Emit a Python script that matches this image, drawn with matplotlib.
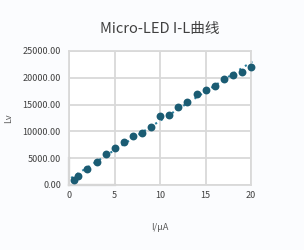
import matplotlib
matplotlib.use("Agg")
import matplotlib.pyplot as plt
import numpy as np

current_uA = [0.5, 1, 2, 3, 4, 5, 6, 7, 8, 9, 10, 11, 12, 13, 14, 15, 16, 17, 18, 19, 20]
lv = [850, 1600, 2950, 4200, 5750, 6900, 8050, 9100, 9750, 10750, 12850, 13050,
      14600, 15450, 17000, 17700, 18550, 19800, 20550, 21150, 21950]
x_ticks = [0, 5, 10, 15, 20]
y_ticks = [0, 5000, 10000, 15000, 20000, 25000]
title = "Micro-LED I-L曲线"
xlabel = "I/μA"
ylabel = "Lv"

plt.rcParams['font.family'] = ['Noto Sans CJK SC', 'DejaVu Sans']

bg = '#fbfcfe'
fig = plt.figure(figsize=(3.04, 2.5), dpi=100, facecolor=bg)
ax = fig.add_axes([0.228, 0.26, 0.598, 0.536])
ax.set_facecolor('white')

col = '#1b5c73'
ax.scatter(current_uA, lv, s=32, color=col, zorder=3, linewidths=0, clip_on=False)
coef = np.polyfit(current_uA, lv, 1)
xs = np.array([0.2, 20.3])
ax.plot(xs, np.polyval(coef, xs), linestyle=(0, (1, 2.2)), color='#2a7f9e', lw=1.5,
        zorder=2, clip_on=False)

ax.set_xlim(0, 20)
ax.set_ylim(0, 25000)
ax.set_xticks(x_ticks)
ax.set_yticks(y_ticks)
ax.set_yticklabels([f"{v:.2f}" for v in y_ticks])
ax.grid(True, color='#d9d9d9', lw=1.3)
ax.set_axisbelow(True)
for s in ax.spines.values():
    s.set_color('#d9d9d9')
    s.set_linewidth(1.3)
ax.plot([0, 5], [0, 0], color='#bfbfbf', lw=1.6, clip_on=False, zorder=1.5)
ax.plot([0, 0], [0, 5000], color='#bfbfbf', lw=1.6, clip_on=False, zorder=1.5)

ax.tick_params(axis='y', length=0, labelsize=6.5, labelcolor='#404040', pad=6)
ax.tick_params(axis='x', length=0, labelsize=6.5, labelcolor='#404040', pad=4)
ax.set_title(title, fontsize=10.5, color='#404040', pad=13)
ax.set_xlabel(xlabel, fontsize=6.5, color='#595959', labelpad=17)
ax.set_ylabel(ylabel, fontsize=6.5, color='#595959', labelpad=7)

fig.savefig("out.png", dpi=100, facecolor=bg)
